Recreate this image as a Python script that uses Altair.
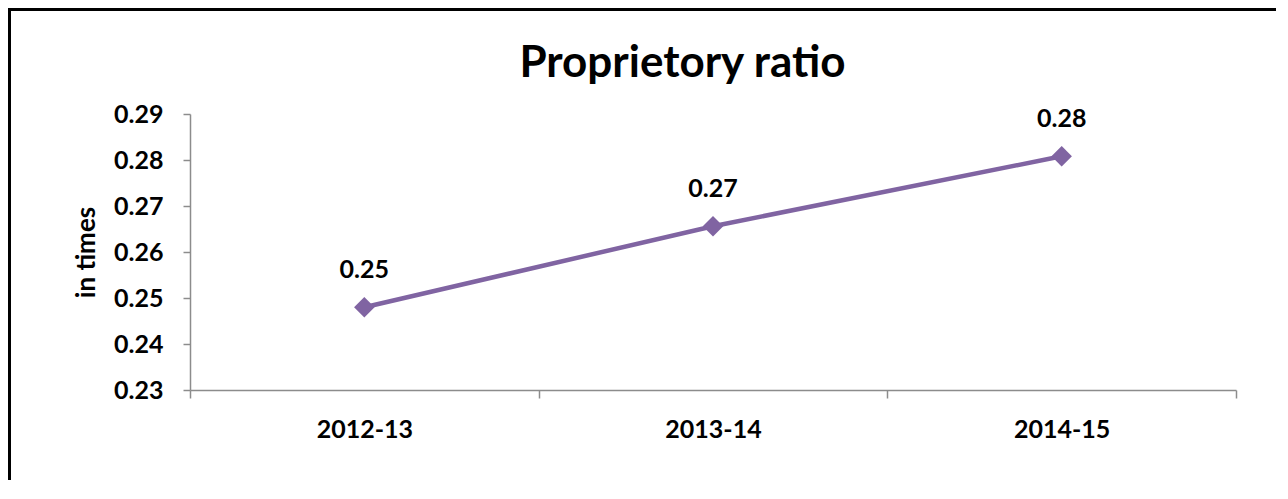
import altair as alt
import pandas as pd

years = ["2012-13", "2013-14", "2014-15"]
ratios = [0.248, 0.2656, 0.2808]
y_ticks = [0.23, 0.24, 0.25, 0.26, 0.27, 0.28, 0.29]
title_text = ["Proprietory ratio"]

df = pd.DataFrame({"year": years, "ratio": ratios})
title_df = pd.DataFrame({"t": title_text})

FONT = "Lato"
PURPLE = "#8064A2"
AXIS_GRAY = "#8c8c8c"
FS = 25

x_enc = alt.X(
    "year:N",
    bandPosition=0.5,
    sort=years,
    scale=alt.Scale(type="band", paddingInner=0, paddingOuter=0),
    axis=alt.Axis(
        title=None, labelAngle=0, tickBand="extent", tickSize=8,
        labelPadding=19, labelFontSize=FS, labelFont=FONT, labelFontWeight="bold",
        labelColor="black", domainColor=AXIS_GRAY, tickColor=AXIS_GRAY,
        domainWidth=1.5, tickWidth=1.5, grid=False,
    ),
)
y_enc = alt.Y(
    "ratio:Q",
    scale=alt.Scale(domain=[0.23, 0.29], nice=False, zero=False),
    axis=alt.Axis(
        title="in times", values=y_ticks, format=".2f", tickSize=7,
        labelPadding=20, labelFontSize=FS, labelFont=FONT, labelFontWeight="bold",
        labelColor="black", titleFont=FONT, titleFontSize=26, titleFontWeight="bold",
        titleColor="black", titlePadding=14, domainColor=AXIS_GRAY,
        tickColor=AXIS_GRAY, domainWidth=1.5, tickWidth=1.5, grid=False,
    ),
)

base = alt.Chart(df).encode(x=x_enc, y=y_enc)

line = base.mark_line(color=PURPLE, strokeWidth=4.5)
points = base.mark_point(shape="diamond", filled=True, size=420, color=PURPLE, opacity=1)
labels = base.mark_text(
    dy=-29, baseline="alphabetic", font=FONT, fontSize=FS, fontWeight="bold", color="black"
).encode(text=alt.Text("ratio:Q", format=".2f"))

frame = alt.Chart(df).mark_rect(
    fill=None, stroke="black", strokeWidth=3, clip=False
).encode(
    x=alt.value(-180.5), x2=alt.value(1200), y=alt.value(-104.5), y2=alt.value(500)
)

title = alt.Chart(title_df).mark_text(
    font=FONT, fontSize=44, fontWeight="bold", color="black",
    align="center", baseline="alphabetic", clip=False,
).encode(text="t:N", x=alt.value(492.5), y=alt.value(-37))

chart = alt.layer(frame, line, points, labels, title).properties(
    width=1046,
    height=276,
    autosize=alt.AutoSizeParams(type="none"),
    padding={"left": 182, "top": 106, "right": 40, "bottom": 90},
).configure_view(stroke=None)

chart.save("out.html", embed_options={"renderer": "svg", "actions": False})
